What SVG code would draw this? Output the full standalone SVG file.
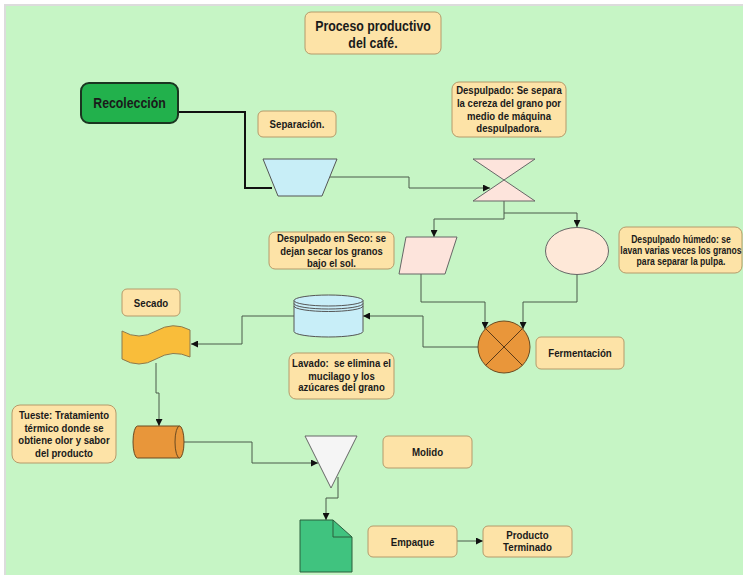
<svg xmlns="http://www.w3.org/2000/svg" width="743" height="575" viewBox="0 0 743 575">
<defs>
<style>
.box{fill:#fde3a7;stroke:#b59a6a;stroke-width:1}
.t{font-family:"Liberation Sans",Arial,sans-serif;font-weight:bold;fill:#1a1a1a;text-anchor:middle}
.s11{font-size:11px}
.s10{font-size:10px}
.s14{font-size:14px}
.c{fill:none;stroke:#4a5a4a;stroke-width:1}
</style>
<marker id="ah" markerUnits="userSpaceOnUse" markerWidth="8" markerHeight="7" refX="7" refY="3.5" orient="auto">
<path d="M0,0 L7,3.5 L0,7 Z" fill="#111"/>
</marker>
</defs>
<rect x="0" y="0" width="743" height="575" fill="#ffffff"/>
<rect x="4" y="4" width="739" height="571" fill="#dcdcdc"/>
<rect x="6" y="6" width="737" height="569" fill="#c6f5c5"/>

<g id="connectors">
<path d="M178,112 H245 V188 H272" fill="none" stroke="#111" stroke-width="2"/>
<path class="c" d="M330,177 H409 V188 H490" marker-end="url(#ah)"/>
<path class="c" d="M504,201 V219 H434 V237" marker-end="url(#ah)"/>
<path class="c" d="M504,213 H577 V227" marker-end="url(#ah)"/>
<path class="c" d="M421,274 V302 H485 V329" marker-end="url(#ah)"/>
<path class="c" d="M577,274 V302 H523 V329" marker-end="url(#ah)"/>
<path class="c" d="M478,347 H423 V316 H363" marker-end="url(#ah)"/>
<path class="c" d="M294,316 H242 V344 H191" marker-end="url(#ah)"/>
<path class="c" d="M156,363 V393 H159 V426" marker-end="url(#ah)"/>
<path class="c" d="M184,442 H252 V463 H318" marker-end="url(#ah)"/>
<path class="c" d="M338,477 V498 H326 V520" marker-end="url(#ah)"/>
<path class="c" d="M457,541 H483" marker-end="url(#ah)"/>
</g>

<g id="titulo">
<rect class="box" x="305" y="12" width="136" height="42" rx="6"/>
<text class="t s14" transform="translate(373,31) scale(0.88 1)">Proceso productivo</text>
<text class="t s14" transform="translate(373,48) scale(0.88 1)">del café.</text>
</g>

<g id="recoleccion">
<rect x="81" y="83" width="97" height="40" rx="8" fill="#22b14c" stroke="#1a3520" stroke-width="2"/>
<text class="t s14" transform="translate(129.5,108) scale(0.88 1)">Recolección</text>
</g>

<g id="separacion-label">
<rect class="box" x="258" y="111" width="78" height="26" rx="5"/>
<text class="t s11" transform="translate(297,128) scale(0.88 1)">Separación.</text>
</g>

<g id="separacion">
<path d="M263,159 H337 L322,196 H278 Z" fill="#c8eef7" stroke="#555" stroke-width="1"/>
</g>

<g id="despulpado-label">
<rect class="box" x="452" y="82" width="114" height="55" rx="7"/>
<text class="t s11" transform="translate(509,94) scale(0.87 1)">Despulpado: Se separa</text>
<text class="t s11" transform="translate(509,107) scale(0.87 1)">la cereza del grano por</text>
<text class="t s11" transform="translate(509,119.5) scale(0.87 1)">medio de máquina</text>
<text class="t s11" transform="translate(509,132) scale(0.87 1)">despulpadora.</text>
</g>

<g id="despulpado">
<path d="M473,159 L535,159 L473,201 L535,201 Z" fill="#fde4dc" stroke="#666" stroke-width="1"/>
</g>

<g id="seco-label">
<rect class="box" x="269" y="232" width="125" height="37" rx="6"/>
<text class="t s11" transform="translate(331.5,241.5) scale(0.86 1)">Despulpado en Seco: se</text>
<text class="t s11" transform="translate(331.5,254.5) scale(0.86 1)">dejan secar los granos</text>
<text class="t s11" transform="translate(331.5,266.5) scale(0.86 1)">bajo el sol.</text>
</g>

<g id="seco">
<path d="M406,237 H457 L445,274 H399 Z" fill="#fde4dc" stroke="#666" stroke-width="1"/>
</g>

<g id="humedo">
<ellipse cx="577" cy="251" rx="31.5" ry="23.5" fill="#fee8d8" stroke="#666" stroke-width="1"/>
</g>

<g id="humedo-label">
<rect class="box" x="619" y="227" width="123" height="46" rx="7"/>
<text class="t s10" transform="translate(681,242.5) scale(0.86 1)">Despulpado húmedo: se</text>
<text class="t s10" transform="translate(681,254) scale(0.86 1)">lavan varias veces los granos</text>
<text class="t s10" transform="translate(681,265) scale(0.86 1)">para separar la pulpa.</text>
</g>

<g id="fermentacion">
<circle cx="504" cy="347" r="26" fill="#e9963a" stroke="#6b4a20" stroke-width="1"/>
<path d="M485.6,328.6 L522.4,365.4 M522.4,328.6 L485.6,365.4" stroke="#5a3a18" stroke-width="1"/>
</g>

<g id="fermentacion-label">
<rect class="box" x="536" y="337" width="88" height="32" rx="5"/>
<text class="t s11" transform="translate(580,357) scale(0.88 1)">Fermentación</text>
</g>

<g id="lavado">
<path d="M294,300.5 A34.5,5.5 0 0 1 363,300.5 V331.5 A34.5,5.5 0 0 1 294,331.5 Z" fill="#c8eef8" stroke="#555" stroke-width="1"/>
<path d="M294,300.5 A34.5,5.5 0 0 0 363,300.5 M294,303.5 A34.5,5.5 0 0 0 363,303.5 M294,306 A34.5,5.5 0 0 0 363,306" fill="none" stroke="#555" stroke-width="1"/>
</g>

<g id="lavado-label">
<rect class="box" x="289" y="353" width="105" height="46" rx="7"/>
<text class="t s11" xml:space="preserve" transform="translate(341.5,367) scale(0.87 1)">Lavado:  se elimina el</text>
<text class="t s11" transform="translate(341.5,379.5) scale(0.87 1)">mucilago y los</text>
<text class="t s11" transform="translate(341.5,391) scale(0.87 1)">azúcares del grano</text>
</g>

<g id="secado-label">
<rect class="box" x="122" y="289" width="58" height="27" rx="5"/>
<text class="t s11" transform="translate(151,306.5) scale(0.88 1)">Secado</text>
</g>

<g id="secado">
<path d="M122,331 Q139,341 156,331 Q173,321 190,330 L190,357 Q173,349 156,359 Q139,369 122,359 Z" fill="#f9bd3a" stroke="#8a7a50" stroke-width="1"/>
</g>

<g id="tueste-label">
<rect class="box" x="12" y="405" width="104" height="58" rx="8"/>
<text class="t s11" transform="translate(64,419) scale(0.87 1)">Tueste: Tratamiento</text>
<text class="t s11" transform="translate(64,431.5) scale(0.87 1)">térmico donde se</text>
<text class="t s11" transform="translate(64,444) scale(0.87 1)">obtiene olor y sabor</text>
<text class="t s11" transform="translate(64,456.5) scale(0.87 1)">del producto</text>
</g>

<g id="tueste">
<path d="M137.5,426 H179.5 A4.5,16 0 0 1 179.5,458 H137.5 A4.5,16 0 0 1 137.5,426 Z" fill="#e8963a" stroke="#6b4a20" stroke-width="1"/>
<path d="M179.5,426 A4.5,16 0 0 0 179.5,458" fill="none" stroke="#6b4a20" stroke-width="1"/>
</g>

<g id="molido">
<path d="M305,436 H357 L331,488 Z" fill="#f5f5f5" stroke="#666" stroke-width="1"/>
</g>

<g id="molido-label">
<rect class="box" x="383" y="436" width="89" height="32" rx="5"/>
<text class="t s11" transform="translate(427.5,456) scale(0.88 1)">Molido</text>
</g>

<g id="empaque">
<path d="M300,520 H333 L352,537 V572 H300 Z" fill="#40c37f" stroke="#2a5e3d" stroke-width="1"/>
<path d="M333,520 V537 H352" fill="none" stroke="#2a5e3d" stroke-width="1"/>
</g>

<g id="empaque-label">
<rect class="box" x="368" y="526" width="89" height="31" rx="5"/>
<text class="t s11" transform="translate(412.5,545.5) scale(0.88 1)">Empaque</text>
</g>

<g id="producto-terminado">
<rect class="box" x="483" y="526" width="89" height="31" rx="5"/>
<text class="t s11" transform="translate(527.5,538.5) scale(0.88 1)">Producto</text>
<text class="t s11" transform="translate(527.5,551) scale(0.88 1)">Terminado</text>
</g>
</svg>
